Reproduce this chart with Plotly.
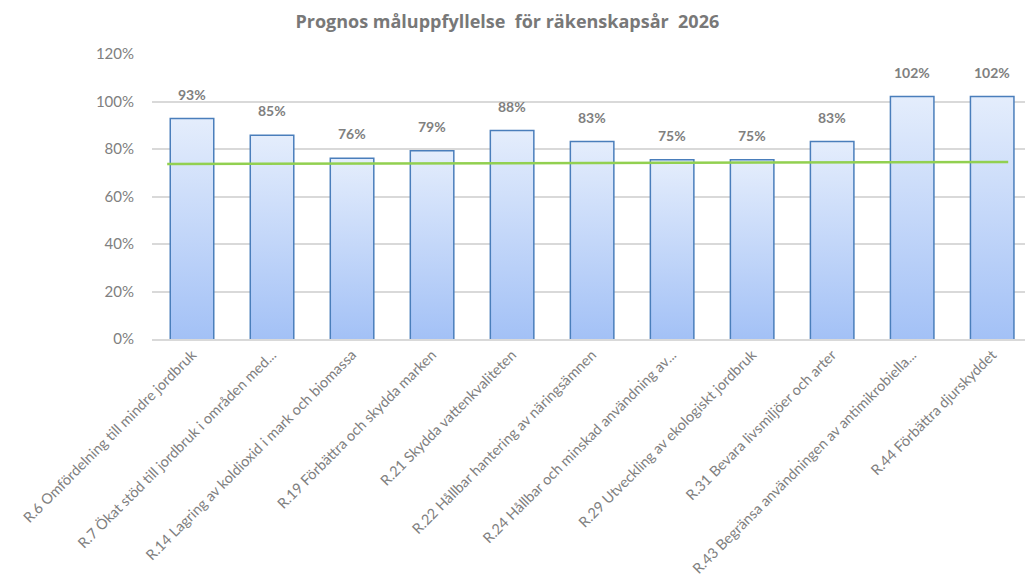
import plotly.graph_objects as go

categories = [
    "R.6 Omfördelning till mindre jordbruk",
    "R.7 Ökat stöd till jordbruk i områden med...",
    "R.14 Lagring av koldioxid i mark och biomassa",
    "R.19 Förbättra och skydda marken",
    "R.21 Skydda vattenkvaliteten",
    "R.22 Hållbar hantering av näringsämnen",
    "R.24 Hållbar och minskad användning av...",
    "R.29 Utveckling av ekologiskt jordbruk",
    "R.31 Bevara livsmiljöer och arter",
    "R.43 Begränsa användningen av antimikrobiella...",
    "R.44 Förbättra djurskyddet",
]
values = [92.5, 85.5, 75.8, 79.0, 87.5, 82.8, 75.2, 75.2, 82.8, 101.8, 101.8]
labels = ["93%", "85%", "76%", "79%", "88%", "83%", "75%", "75%", "83%", "102%", "102%"]

y_ticks = [0, 20, 40, 60, 80, 100, 120]
y_ticktext = ["0%", "20%", "40%", "60%", "80%", "100%", "120%"]

# green reference line
line_x = [-0.31, 10.2]
line_y = [73.7, 74.5]

BAR_W = 0.525
idx = list(range(len(categories)))

fig = go.Figure()

# gradient fill of each column (light at top, darker blue at the base)
for i, v in zip(idx, values):
    fig.add_trace(go.Scatter(
        x=[i - BAR_W / 2, i + BAR_W / 2, i + BAR_W / 2, i - BAR_W / 2, i - BAR_W / 2],
        y=[0, 0, v, v, 0],
        mode="lines", line=dict(width=0),
        fill="toself",
        fillgradient=dict(type="vertical",
                          colorscale=[[0, "#a3c1f6"], [1, "#e4edfc"]]),
        hoverinfo="skip", showlegend=False,
    ))

fig.add_trace(go.Bar(
    x=idx, y=values, width=BAR_W,
    marker=dict(color="rgba(0,0,0,0)", line=dict(color="#4a7ebb", width=3)),
    showlegend=False,
))

fig.add_trace(go.Scatter(
    x=line_x, y=line_y, mode="lines",
    line=dict(color="#92d050", width=2.5),
    showlegend=False,
))

for i, v, t in zip(idx, values, labels):
    fig.add_annotation(x=i, y=v, text=f"<b>{t}</b>", showarrow=False, yshift=25,
                       font=dict(size=14, color="#808080"))

fig.update_xaxes(
    tickvals=idx, ticktext=categories, tickangle=-45,
    range=[-0.5, 10.41], automargin=False,
    tickfont=dict(size=14.5, color="#808080"),
    showgrid=False, zeroline=False,
    showline=True, linecolor="#d9d9d9", linewidth=1.5,
    ticks="",
)
fig.update_yaxes(
    range=[0, 120], tickvals=y_ticks, ticktext=y_ticktext, automargin=False,
    tickfont=dict(size=15, color="#808080"),
    showgrid=True, gridcolor="#d9d9d9", gridwidth=1.5,
    zeroline=False, ticklen=14, ticks="outside", tickcolor="rgba(0,0,0,0)",
)
fig.update_layout(
    width=1027, height=581,
    title=dict(text="<b>Prognos måluppfyllelse  för räkenskapsår  2026</b>",
               x=0.494, xanchor="center", y=0.962, yanchor="middle",
               font=dict(size=18, color="#787878", family="Open Sans, sans-serif")),
    font=dict(family="Lato, sans-serif"),
    plot_bgcolor="white", paper_bgcolor="white",
    margin=dict(l=152, r=2, t=54, b=242),
)

fig.write_html("out.html", config={"displayModeBar": False},
               post_script="document.body.style.margin='0';")
